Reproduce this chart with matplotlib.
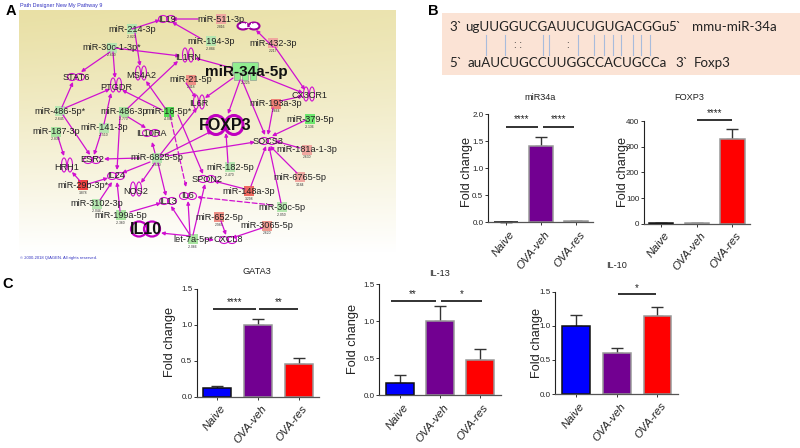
import numpy as np
import matplotlib
matplotlib.use("Agg")
import matplotlib.pyplot as plt
from matplotlib.patches import Ellipse, Rectangle, FancyBboxPatch
from matplotlib import font_manager as fm

W, H = 800, 448
names = {f.name for f in fm.fontManager.ttflist}
NARROW = 'Liberation Sans Narrow' if 'Liberation Sans Narrow' in names else 'Liberation Sans'
plt.rcParams['font.family'] = ['Liberation Sans', 'DejaVu Sans']

# ---------- bar data ----------
groups = ['Naive', 'OVA-veh', 'OVA-res']
mir34a_vals = [0.0, 1.42, 0.02]
mir34a_errs = [0.0, 0.16, 0.005]
foxp3_vals = [1, 1, 328]
foxp3_errs = [0.5, 0.5, 40]
gata3_vals = [0.12, 1.0, 0.45]
gata3_errs = [0.025, 0.08, 0.09]
il13_vals = [0.16, 1.0, 0.48]
il13_errs = [0.11, 0.20, 0.14]
il10_vals = [1.0, 0.60, 1.14]
il10_errs = [0.16, 0.08, 0.14]

# ---------- network ----------
# label, x, y, box colour, small value
mirnas = [
 ('miR-214-3p',132,29,'#b5e6b0','-2.820'), ('miR-30c-1-3p*',112,48,'#b5e6b0','-2.630'),
 ('miR-511-3p',221,19,'#f0a8a0','2.816'), ('miR-194-3p',211,41,'#b5e6b0','-2.884'),
 ('miR-432-3p',273,43,'#f0a8a0','2.217'), ('miR-21-5p',191,80,'#ee8f85','2.418'),
 ('miR-486-5p*',60,111,'#b5e6b0','-2.645'), ('miR-486-3p',124,112,'#a8e4a0','-2.770'),
 ('miR-16-5p*',169,112,'#55dd55','-4.085'), ('miR-187-3p',56,132,'#a8e4a0','-2.830'),
 ('miR-141-3p',104,128,'#b5e6b0','-2.510'), ('miR-193a-3p',276,104,'#ee7f75','2.664'),
 ('miR-379-5p',310,119,'#6ee66e','-3.136'), ('miR-6825-5p',157,158,'#b5e6b0','-2.630'),
 ('miR-29b-3p*',83,185,'#ee4040','3.878'), ('miR-3102-3p',97,204,'#b5e6b0','-2.044'),
 ('miR-199a-5p',121,215,'#a8e4a0','-2.360'), ('let-7a-5p*',193,239,'#a8e4a0','-2.066'),
 ('miR-181a-1-3p',307,150,'#f0a8a0','2.630'), ('miR-182-5p',230,167,'#b5e6b0','-2.470'),
 ('miR-6765-5p',300,177,'#f0a8a0','3.184'), ('miR-148a-3p',249,191,'#ee6a60','3.298'),
 ('miR-30c-5p',282,207,'#b5e6b0','-2.050'), ('miR-652-5p',219,217,'#ee8f85','2.985'),
 ('miR-3065-5p',267,226,'#ee9a90','2.620'),
]
genes = [
 ('IL19',167,19,'h'), ('STAT6',76,77,'h'), ('MS4A2',141,75,'v'), ('PTGDR',116,87,'v'),
 ('IL1RN',188,57,'v'), ('IL6R',199,104,'v'), ('IL10RA',151,133,'h'), ('CX3CR1',309,96,'v'),
 ('SOCS3',268,141,'h'), ('ESR2',92,160,'h'), ('HRH1',67,167,'v'), ('IL24',116,176,'h'),
 ('NOS2',136,191,'v'), ('IL13',168,201,'h'), ('IL6',188,196,'h'), ('SPON2',207,179,'h'),
 ('CXCL8',228,240,'h'),
]
solid_edges = [
 (132,29,160,20),(135,33,140,66),(110,52,81,72),(113,52,115,78),(115,48,180,56),(200,38,172,22),
 (198,19,172,19),(232,68,195,58),(128,108,178,61),(186,83,196,98),(165,108,146,81),(162,110,122,90),
 (62,107,73,82),(65,108,110,89),(63,115,90,155),(58,137,64,156),(104,124,111,93),(101,133,94,155),
 (128,117,146,128),(120,116,117,170),(140,158,104,159),(150,162,122,173),(155,163,141,183),
 (155,153,152,142),(158,163,166,196),(160,155,197,108),(160,157,212,131),(167,156,255,142),
 (80,181,72,172),(88,184,108,178),(100,200,112,182),(120,211,117,182),(130,212,161,203),
 (190,236,161,233),(190,235,171,206),(190,235,188,201),(193,235,205,184),(205,239,214,240),
 (221,221,226,235),(262,228,232,238),(258,75,303,93),(233,78,205,98),(240,80,228,114),
 (242,80,265,135),(273,47,256,30),(275,47,305,90),(280,101,303,96),(273,108,268,135),
 (306,120,272,136),(228,163,226,133),(300,148,275,141),(297,173,270,146),(281,203,269,146),
 (251,186,266,146),(245,189,214,181),(178,115,203,174),
]
dashed_edges = [(170,115,186,187),(272,205,197,197)]
MAG = '#d010d0'

fig = plt.figure(figsize=(W/100, H/100), dpi=100, facecolor='white')
ax0 = fig.add_axes([0,0,1,1]); ax0.set_xlim(0,W); ax0.set_ylim(H,0); ax0.axis('off')

# panel A background
ny, nx = 120, 190
yy, xx = np.mgrid[0:1:ny*1j, 0:1:nx*1j]
t = np.clip(1 - yy**1.15 - 0.12*xx*(1-yy), 0, 1)
top = np.array([233,224,165])/255
img = 1 - (1-top)[None,None,:]*t[...,None]
ax0.imshow(img, extent=(19,396,253,10), aspect='auto', zorder=0, interpolation='bilinear')
ax0.set_xlim(0,W); ax0.set_ylim(H,0)

def edge(x0,y0,x1,y1,ls='-'):
    ax0.annotate('', xy=(x1,y1), xytext=(x0,y0), zorder=3,
        arrowprops=dict(arrowstyle='-|>', color=MAG, lw=0.9, mutation_scale=5, shrinkA=0, shrinkB=0,
                        linestyle=ls if ls=='-' else (0,(4,2))))
for e in solid_edges: edge(*e)
for e in dashed_edges: edge(*e, ls='--')

def glyph(x,y,kind):
    if kind=='h':
        cs=[(x-4,y,9,7),(x+4,y,9,7)]
    else:
        cs=[(x-3,y-2,5,14),(x+3,y-2,5,14)]
    for cx,cy,w,h in cs:
        ax0.add_patch(Ellipse((cx,cy),w,h,fill=False,ec=MAG,lw=0.8,zorder=4))

for name,x,y,c,v in mirnas:
    ax0.add_patch(Rectangle((x-5,y-5),10,10,fc=c,ec='none',zorder=2))
    ax0.text(x,y,name,fontsize=6.6,ha='center',va='center',color='#222222',zorder=6)
    ax0.text(x,y+7.5,v,fontsize=2.4,ha='center',va='center',color='#333333',zorder=6)
for name,x,y,k in genes:
    glyph(x,y,k)
    ax0.text(x,y,name,fontsize=6.6,ha='center',va='center',color='#222222',zorder=6)

# GLI2
for cx in (243,254):
    ax0.add_patch(Ellipse((cx,26),11,7,fill=True,fc='white',ec='#a000a0',lw=1.5,zorder=4))
ax0.text(249,26,'GLI2',fontsize=6,ha='center',va='center',color='white',fontweight='bold',zorder=6)

# hub miR-34a
ax0.add_patch(FancyBboxPatch((233,63),25,11,boxstyle='round,pad=0.5,rounding_size=1',fc='#90ee90',ec='#99aa99',lw=0.8,zorder=2))
for cx in (237,245,253):
    ax0.add_patch(Rectangle((cx-3,72),6,8,fc='#90ee90',ec='#99aa99',lw=0.6,zorder=2))
ax0.text(246,72,'miR-34a-5p',fontsize=11,fontweight='bold',ha='center',va='center',color='#111111',zorder=6)
ax0.text(246,83.5,'-3.225',fontsize=2.4,ha='center',va='center',color='#333333',zorder=6)
# FOXP3
for cx in (216,234):
    ax0.add_patch(Ellipse((cx,125),18,19,fill=False,ec='#c000c0',lw=2.2,zorder=4))
ax0.text(225,125,'FOXP3',fontsize=11.5,fontweight='bold',ha='center',va='center',color='#111111',zorder=6)
# IL10
for cx,w in ((139,16),(152,16)):
    ax0.add_patch(Ellipse((cx,229),w,15,fill=False,ec='#c000c0',lw=1.6,zorder=4))
ax0.text(146,230,'IL10',fontsize=11.5,fontweight='bold',ha='center',va='center',color='#111111',zorder=6)

ax0.text(20,5.5,'Path Designer New My Pathway 9',fontsize=3.9,color='#3030c0',va='center')
ax0.text(20,257.5,'© 2000-2018 QIAGEN. All rights reserved.',fontsize=3.0,color='#3030c0',va='center')

for s,x,y in (('A',11,11),('B',433,11),('C',8,284)):
    ax0.text(x,y,s,fontsize=10.5,fontweight='bold',ha='center',va='center',color='black')

# panel B sequence box
ax0.add_patch(Rectangle((442,13),358,62,fc='#fbe3d5',ec='none',zorder=1))
SEQ = 'Lato'
for s,zx,y in (("3`",87,27),("ugUUGGUCGAUUCUGUGACGGu",135,27),("5`",745,27),("mmu-miR-34a",815,27),
               ("5`",87,63),("auAUCUGCCUUGGCCACUGCCa",143,63),("3`",765,63),("Foxp3",822,63)):
    ax0.text(420+zx/3,y,s,fontsize=9.6,family=SEQ,ha='left',va='center',color='#222222',zorder=3)
pair_lines = [197,255,368,388,475,523,551,580,603,638,662,689]
for z in pair_lines:
    ax0.plot([420+z/3]*2,[35,55],color='#a8bcdc',lw=0.8,zorder=3)
for z,s in ((295,': :'),(441,':')):
    ax0.text(420+z/3,45.5,s,fontsize=7,ha='center',va='center',color='#222222',zorder=3)

# bar panels
PURPLE='#720091'
colors=['#0000ff',PURPLE,'#ff0000']
edges=['#101010','#999999','#999999']

def panel(vals,errs,yticks,yfmt,left,right,y0,ytop,c0,dx,title,tx,ty,lx,ly,sig):
    ymax=yticks[-1]
    ax=fig.add_axes([left/W,1-y0/H,(right-left)/W,(y0-ytop)/H],facecolor='none')
    ax.set_xlim((left-c0)/dx,(right-c0)/dx); ax.set_ylim(0,ymax)
    for i,(v,e) in enumerate(zip(vals,errs)):
        ax.bar(i,v,width=0.68,color=colors[i],edgecolor=edges[i],linewidth=1.1,zorder=2,clip_on=False)
        ax.errorbar(i,v,yerr=[[0],[e]],color='#333333',capsize=4.6,lw=1,capthick=1,zorder=1,clip_on=False)
    for sp in ('top','right'): ax.spines[sp].set_visible(False)
    ax.spines['left'].set_color('#222222'); ax.spines['bottom'].set_color('#555555')
    ax.spines['left'].set_linewidth(0.8); ax.spines['bottom'].set_linewidth(0.9)
    ax.set_yticks(yticks); ax.set_yticklabels([yfmt%t for t in yticks],fontsize=5.8,family=NARROW,color='#222222')
    ax.set_xticks(range(3)); ax.set_xticklabels([])
    ax.tick_params(axis='both',length=2.2,width=0.7,pad=1.2,color='#333333')
    for i,g in enumerate(groups):
        ax.annotate(g,xy=(i,0),xycoords=('data','axes fraction'),xytext=(2,-5),textcoords='offset points',
                    rotation=51,rotation_mode='anchor',ha='right',va='top',fontsize=8.2,style='italic',color='#222222')
    for x0,x1,yv,s,sy in sig:
        ax.plot([x0,x1],[yv,yv],color='#222222',lw=1.3,clip_on=False,solid_capstyle='butt',zorder=3)
        ax.annotate(s,xy=((x0+x1)/2,yv),xytext=(0,sy),textcoords='offset pixels',ha='center',va='center',
                    fontsize=7,color='#222222',annotation_clip=False)
    ax0.text(tx,ty,title,fontsize=6.6,family=NARROW,ha='center',va='center',color='#222222')
    ax0.text(lx,ly,'Fold change',fontsize=9.2,rotation=90,ha='center',va='center',color='#222222')
    return ax

panel(mir34a_vals,mir34a_errs,[0,0.5,1.0,1.5,2.0],'%.1f',488,593,222.3,114.3,505.7,35.2,'miR34a',540,97,467,172,
      [(0,0.93,1.77,'****',8),(1.07,1.93,1.77,'****',8)])
panel(foxp3_vals,foxp3_errs,[0,100,200,300,400],'%d',644,750,223.7,121,661,35.7,'FOXP3',689,97,623,172,
      [(1,2,405,'****',7)])
panel(gata3_vals,gata3_errs,[0,0.5,1.0,1.5],'%.1f',197,319,396.7,288.7,217,41,'GATA3',257,271,170,342,
      [(-0.1,0.95,1.222,'****',6.5),(1.03,1.97,1.222,'**',6.5)])
panel(il13_vals,il13_errs,[0,0.5,1.0,1.5],'%.1f',379.3,500.7,395.3,284,400,40,'IL-13',440,273,353,339,
      [(-0.23,0.89,1.275,'**',7),(1.03,2.04,1.275,'*',7)])
panel(il10_vals,il10_errs,[0,0.5,1.0,1.5],'%.1f',555.3,678,394,291.7,576,40.7,'IL-10',617,266,537,343,
      [(1.02,1.96,1.47,'*',6)])

fig.savefig('out.png',dpi=100)
